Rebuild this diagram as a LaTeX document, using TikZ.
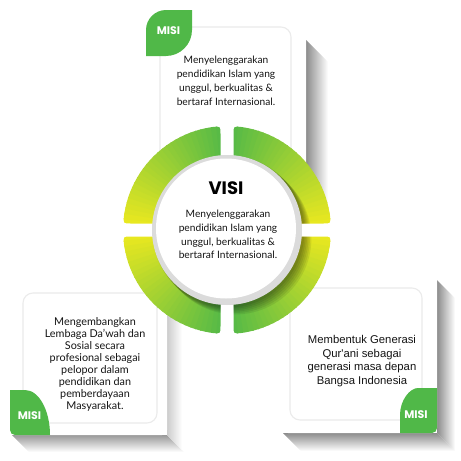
\documentclass[tikz,border=0pt]{standalone}
\usepackage{fontspec}
\setmainfont{Lato}
\newfontfamily\headfont{Poppins}
\newfontfamily\arialfont{Liberation Sans}
\definecolor{cG}{RGB}{80,184,72}
\definecolor{cY}{RGB}{240,234,30}
\newcommand\ringseg[2]{%
  \begin{scope}[xscale=#1,yscale=#2]
    \begin{scope}
      \clip (6.5,50) -- (6.5,96) .. controls (6.5,103.8) .. (82:104)
        arc[start angle=82,end angle=8,radius=104]
        .. controls (103.8,6.5) .. (96,6.5) -- (50,6.5) -- cycle;
      \foreach \a in {0,3,...,87}{%
        \pgfmathsetmacro\p{min(100,max(0,(\a+1.5)/90*100))}%
        \fill[cG!\p!cY] (0,0) -- (\a:112) arc[start angle=\a,end angle=\a+3.6,radius=112] -- cycle;
      }
      \foreach \i in {1,...,6}{%
        \fill[black,opacity=0.08] (\i*#1*1.4,-\i*#2*1.4) circle (76);
      }
    \end{scope}
  \end{scope}}
\tikzset{
  bodytext/.style={align=center,inner sep=0pt,text=black!92,font=\fontsize{10.2}{14}\selectfont},
  misilabel/.style={inner sep=0pt,text=white,font=\headfont\bfseries\fontsize{11}{12}\selectfont},
  innerbox/.style={draw=black!8,line width=1.1pt,rounded corners=10pt},
  cardfill/.style={fill=white,rounded corners=5pt},
  leaf/.style={fill=cG}
}
\begin{document}
\begin{tikzpicture}[x=1pt,y=-1pt]
\useasboundingbox (0,0) rectangle (461,461);
% ---- card shadows
\shade[left color=black!45,right color=white] (306,40) -- (328,62) -- (328,215) -- (306,215) -- cycle;
\shade[top color=black!40,bottom color=white] (12,435) -- (167,435) -- (184,452) -- (29,452) -- cycle;
\shade[left color=black!20,right color=white] (167,300) -- (182,315) -- (182,450) -- (167,435) -- cycle;
\shade[left color=black!45,right color=white] (437,280) -- (455,298) -- (455,451) -- (437,433) -- cycle;
\shade[top color=black!45,bottom color=white] (283,433) -- (437,433) -- (455,451) -- (301,451) -- cycle;
% ---- cards
\fill[cardfill] (146,10) rectangle (306,205);
\fill[cardfill] (10,280) rectangle (167,435);
\fill[cardfill] (283,275) rectangle (437,433);
\draw[innerbox] (160,27) rectangle (291,205);
\draw[innerbox] (23,293) rectangle (157,423);
\draw[innerbox] (290,288) rectangle (422,420);
% ---- leaves
\fill[leaf] (146,56) -- (146,30) .. controls (146,19) and (155,10) .. (166,10) -- (192,10) -- (192,30)
  .. controls (192,44.3) and (180.3,56) .. (166,56) -- cycle;
\fill[leaf] (10,390) -- (25,390) .. controls (38.8,390) and (50,410.2) .. (50,435) -- (15,435)
  .. controls (12.2,435) and (10,432.8) .. (10,430) -- cycle;
\fill[leaf] (400,433) -- (400,415) .. controls (400,400.1) and (409.9,388) .. (418,388) -- (437,388) -- (437,428)
  .. controls (437,430.8) and (434.8,433) .. (432,433) -- cycle;
\node[misilabel] (m1) at (168.5,31) {MISI};
\node[misilabel] (m2) at (29.5,416) {MISI};
\node[misilabel] (m3) at (416,414.5) {MISI};
% ---- card texts
\node[bodytext] (t1) at (226,81) {Menyelenggarakan\\pendidikan Islam yang\\unggul, berkualitas \&\\bertaraf Internasional.};
\node[bodytext,font=\fontsize{10.8}{11.9}\selectfont] (t2) at (95,364.5) {Mengembangkan\\Lembaga Da'wah dan\\Sosial secara\\profesional sebagai\\pelopor dalam\\pendidikan dan\\pemberdayaan\\Masyarakat.};
\node[bodytext,font=\arialfont\fontsize{11.3}{13.6}\selectfont] (t3) at (362,361) {Membentuk Generasi\\Qur'ani sebagai\\generasi masa depan\\Bangsa Indonesia};
% ---- ring
\begin{scope}[shift={(227,230)},yscale=-1]
  \ringseg{1}{1}
  \ringseg{-1}{1}
  \ringseg{1}{-1}
  \ringseg{-1}{-1}
  \fill[black!14] (0,0) circle (75);
  \fill[white] (-1,1.5) circle (70);
\end{scope}
% ---- centre text
\node[inner sep=0pt,font=\headfont\bfseries\fontsize{18}{20}\selectfont] (visi) at (226,188.5) {VISI};
\node[bodytext,font=\fontsize{10.2}{13.6}\selectfont] (t0) at (228,234.5) {Menyelenggarakan\\pendidikan Islam yang\\unggul, berkualitas \&\\bertaraf Internasional.};
\end{tikzpicture}
\end{document}
